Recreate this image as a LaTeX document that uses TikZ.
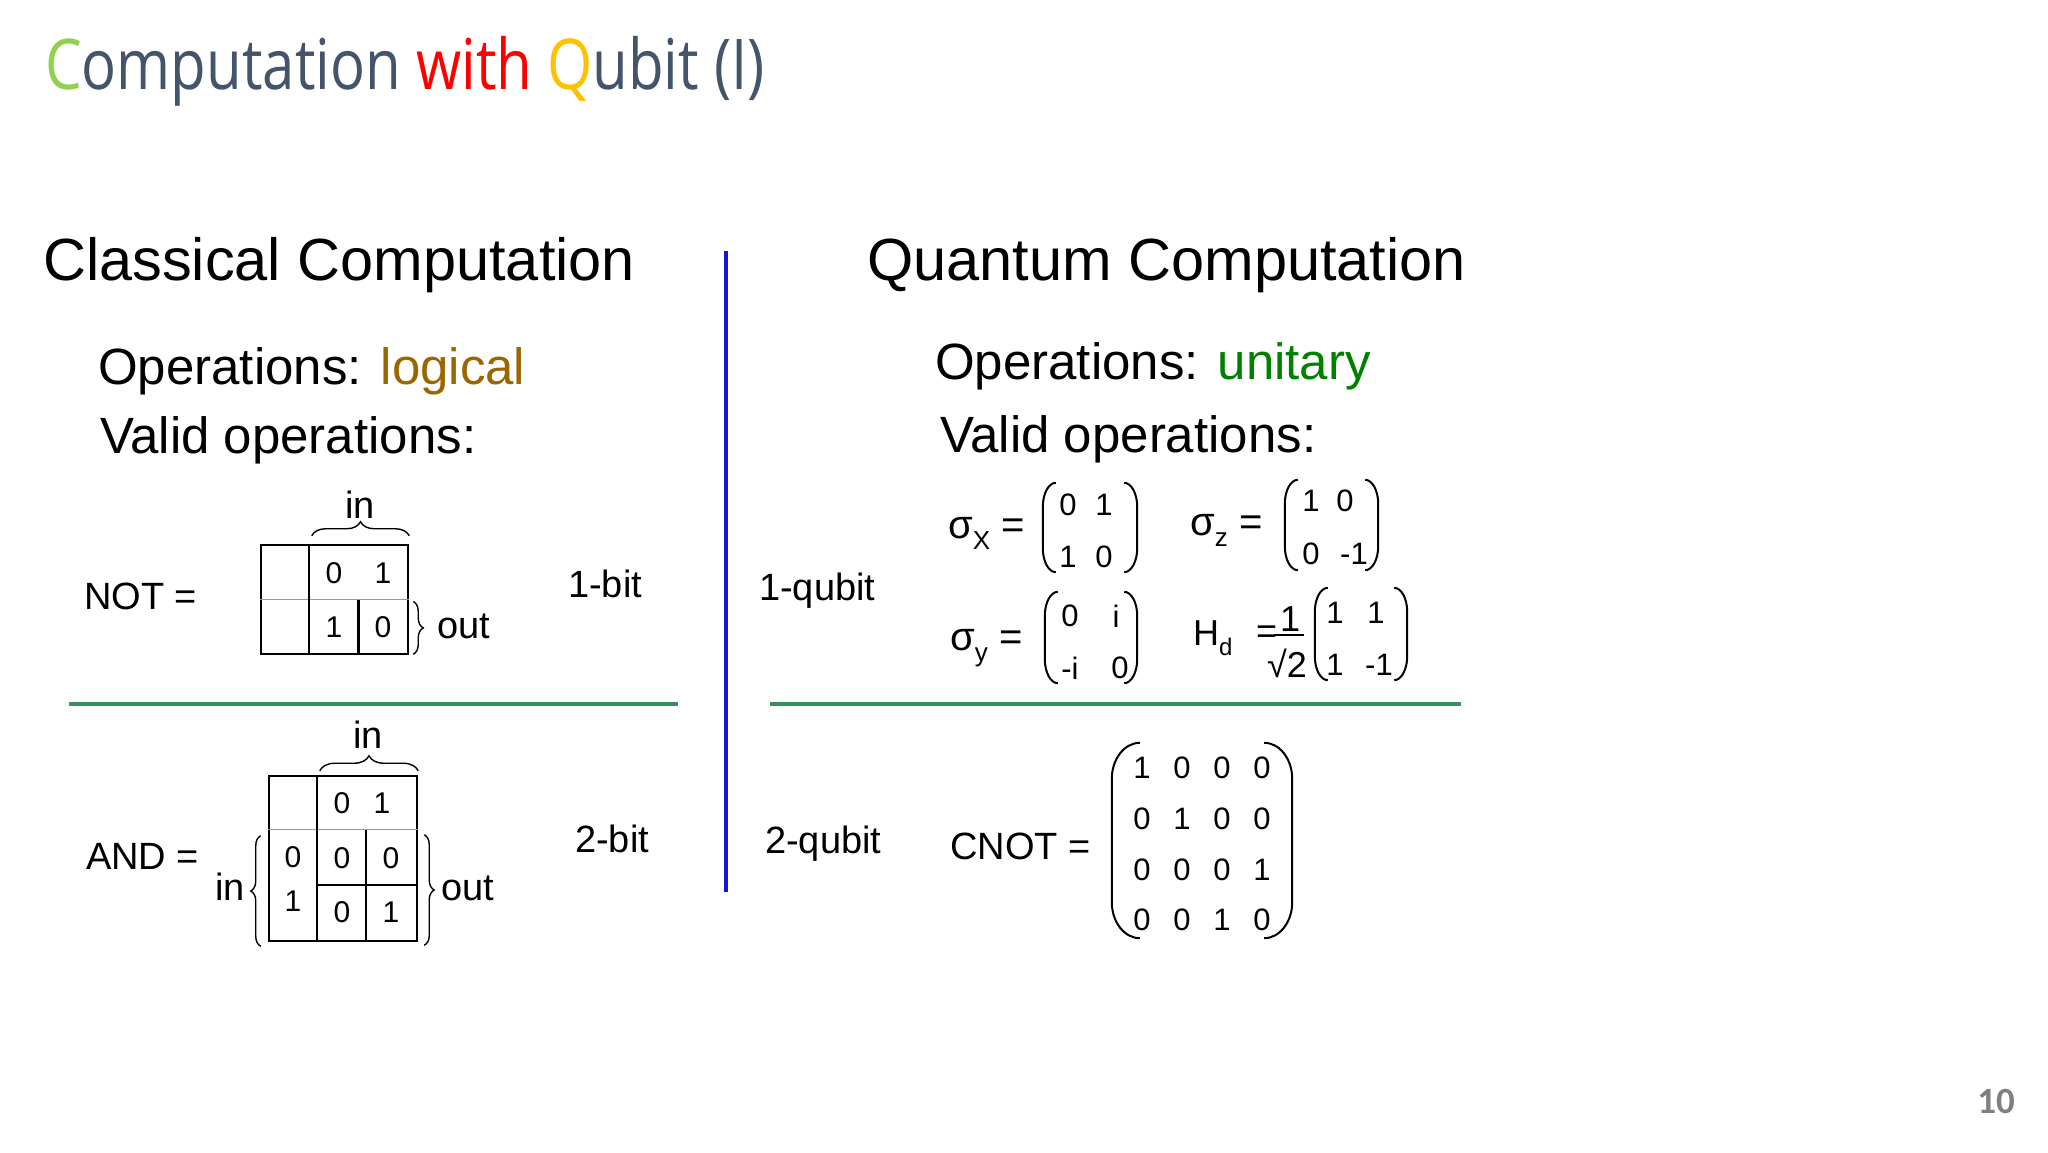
\documentclass[tikz,border=0pt]{standalone}
\usepackage{fontspec}
\usepackage{tikz}
\usepackage{xcolor}
\setmainfont{Liberation Sans}
\newfontfamily\titlefont{Open Sans}[FakeStretch=0.83]
\newfontfamily\numfont{Carlito}
\usetikzlibrary{decorations.pathreplacing, calc}
\definecolor{cTitle}{RGB}{68,84,106}
\definecolor{cLime}{RGB}{146,208,80}
\definecolor{cRed}{RGB}{255,0,0}
\definecolor{cGold}{RGB}{255,192,0}
\definecolor{cLogic}{RGB}{153,102,0}
\definecolor{cUnitary}{RGB}{0,128,0}
\definecolor{cDivider}{RGB}{20,20,215}
\definecolor{cRule}{RGB}{50,145,95}
\definecolor{cPage}{RGB}{128,128,128}
\newcommand{\fsz}[1]{\fontsize{#1}{#1}\selectfont}
\newcommand{\subtxt}[2][26]{\raisebox{-0.28em}{\fsz{#1}#2}}
% round brackets along the sides of a matrix node
\newcommand{\matparens}[3]{%
	\draw[paren] ($(#1.north west)+(#2,0)$) .. controls ($(#1.north west)+(0.45*#2,0)$) and ($(#1.north west)+(0,0.45*#3)$) .. ($(#1.north west)+(0,#3)$)
		-- ($(#1.south west)+(0,-#3)$) .. controls ($(#1.south west)+(0,-0.45*#3)$) and ($(#1.south west)+(0.45*#2,0)$) .. ($(#1.south west)+(#2,0)$);
	\draw[paren] ($(#1.north east)+(-#2,0)$) .. controls ($(#1.north east)+(-0.45*#2,0)$) and ($(#1.north east)+(0,0.45*#3)$) .. ($(#1.north east)+(0,#3)$)
		-- ($(#1.south east)+(0,-#3)$) .. controls ($(#1.south east)+(0,-0.45*#3)$) and ($(#1.south east)+(-0.45*#2,0)$) .. ($(#1.south east)+(-#2,0)$);
}
\tikzset{
	heading/.style={anchor=base west, inner sep=0pt, font=\fsz{59.5}},
	subhead/.style={anchor=base west, inner sep=0pt, font=\fsz{51}},
	lbl/.style={anchor=base west, inner sep=0pt, font=\fsz{38}},
	siglbl/.style={anchor=base west, inner sep=0pt, font=\fsz{40}},
	hdlbl/.style={anchor=base west, inner sep=0pt, font=\fsz{36}},
	digit/.style={inner sep=0pt, font=\fsz{30}},
	entry/.style={inner sep=0pt, font=\fsz{31}},
	% truth-table helpers
	truthtab/.style={draw, line width=2.5pt, inner sep=0pt},
	thinrule/.style={draw=black!40, line width=1.2pt},
	thickrule/.style={draw=black, line width=2.5pt},
	bracebox/.style={decorate, decoration={brace, amplitude=#1}, line width=1.4pt},
	bracebox/.default=12,
	matbox/.style={inner sep=0pt},
	paren/.style={line width=2pt},
	sectionrule/.style={cRule, line width=4pt},
}
\begin{document}
\begin{tikzpicture}[x=1pt, y=-1pt]
	\fill[white] (0,0) rectangle (2048,1152);
	\useasboundingbox (0,0) rectangle (2048,1152);

	\node[anchor=base west, inner sep=0pt, font=\titlefont\fsz{70}, text=cTitle] (title) at (45,89)
		{\textcolor{cLime}{C}omputation \textcolor{cRed}{with} \textcolor{cGold}{Q}ubit (I)};
	\node[heading] (classic) at (43,280) {Classical Computation};
	\node[heading] (quantum) at (867,280) {Quantum Computation};
	\node[subhead] (opsl) at (98,384) {Operations: \textcolor{cLogic}{logical}};
	\node[subhead] (validl) at (100,453) {Valid operations:};
	\node[subhead] (opsr) at (935,379) {Operations: \textcolor{cUnitary}{unitary}};
	\node[subhead] (validr) at (940,452) {Valid operations:};

	\draw[cDivider, line width=4pt] (726,251) -- (726,892);
	\draw[sectionrule] (69,704) -- (678,704);
	\draw[sectionrule] (770,704) -- (1461,704);

	% NOT table
	\node[lbl] (notlbl) at (84,609) {NOT =};
	\node[truthtab, minimum width=147pt, minimum height=109pt] (nottab) at (334.5,599.5) {};
	\draw[thinrule] (nottab.west) -- (nottab.east);
	\draw[thickrule] ($(nottab.north west)+(49,0)$) -- ($(nottab.south west)+(49,0)$);
	\draw[thickrule] ($(nottab.center)+(24,0)$) -- ($(nottab.south)+(24,0)$);
	\foreach \x/\y/\v [count=\k] in {334/573/0, 383/573/1, 334/627/1, 383/627/0}
		\node[digit] (nd\k) at (\x,\y) {\v};
	\draw[bracebox=14] ($(nottab.north west)+(52,-8)$) -- ($(nottab.north east)+(0,-8)$);
	\node[lbl, anchor=base] (notin) at (360,518) {in};
	\draw[bracebox=10] ($(nottab.east)+(4,2)$) -- ($(nottab.south east)+(4,-1)$);
	\node[lbl] (notout) at (437,638) {out};
	\node[lbl] (onebit) at (568,597) {1-bit};

	% AND table
	\node[lbl] (andlbl) at (86,869) {AND =};
	\node[truthtab, minimum width=148pt, minimum height=165pt] (andtab) at (343,858.5) {};
	\draw[thinrule] ($(andtab.north west)+(0,55)$) -- ($(andtab.north east)+(0,55)$);
	\draw[thickrule] ($(andtab.north west)+(49,0)$) -- ($(andtab.south west)+(49,0)$);
	\draw[thickrule] ($(andtab.north west)+(98,55)$) -- ($(andtab.south west)+(98,0)$);
	\draw[thickrule] ($(andtab.north west)+(49,110)$) -- ($(andtab.north east)+(0,110)$);
	\foreach \x/\y/\v [count=\k] in {342/803/0, 382/803/1, 293/857/0, 293/901/1, 342/858/0, 391/858/0, 342/912/0, 391/912/1}
		\node[digit] (ad\k) at (\x,\y) {\v};
	\draw[bracebox=15] ($(andtab.north west)+(52,-4)$) -- ($(andtab.north east)+(0,-4)$);
	\node[lbl, anchor=base] (andin) at (368,748) {in};
	\draw[bracebox=10] ($(andtab.south west)+(-7,4)$) -- ($(andtab.north west)+(-7,61)$);
	\node[lbl] (andinl) at (215,900) {in};
	\draw[bracebox=10] ($(andtab.north east)+(6,60)$) -- ($(andtab.south east)+(6,3)$);
	\node[lbl] (andout) at (441,900) {out};
	\node[lbl] (twobit) at (575,852) {2-bit};

	% one-qubit gates
	\node[lbl] (onequbit) at (759,600) {1-qubit};
	\node[siglbl] (lsx) at (948,538) {σ\subtxt{X} =};
	\node[matbox, minimum width=94pt, minimum height=89pt] (sx) at (1090,527.5) {};
	\matparens{sx}{13}{24}
	\foreach \x/\y/\v [count=\k] in {1068/505/0, 1104/505/1, 1068/557/1, 1104/557/0}
		\node[entry] (sx\k) at (\x,\y) {\v};
	\node[siglbl] (lsz) at (1190,535) {σ\subtxt{z} =};
	\node[matbox, minimum width=93pt, minimum height=90pt] (sz) at (1331.5,525) {};
	\matparens{sz}{13}{24}
	\foreach \x/\y/\v [count=\k] in {1311/501/1, 1345/501/0, 1311/554/0, 1354/554/-1}
		\node[entry] (sz\k) at (\x,\y) {\v};
	\node[siglbl] (lsy) at (950,650) {σ\subtxt{y} =};
	\node[matbox, minimum width=92pt, minimum height=91pt] (sy) at (1091,637.5) {};
	\matparens{sy}{13}{24}
	\foreach \x/\y/\v [count=\k] in {1070/616/0, 1116/616/i, 1070/668/-i, 1120/668/0}
		\node[entry] (sy\k) at (\x,\y) {\v};
	\node[hdlbl] (lhd) at (1193,645) {H\subtxt[24]{d}};
	\node[hdlbl] (hdeq) at (1256,643) {=};
	\node[hdlbl, anchor=base] (hdnum) at (1290,631) {1};
	\draw[line width=2.2pt] ($(hdeq.base east)+(-3,-8)$) -- ($(hdeq.base east)+(27,-8)$);
	\node[hdlbl] (hdden) at (1267,677) {√2};
	\node[matbox, minimum width=92pt, minimum height=92pt] (hd) at (1361,634) {};
	\matparens{hd}{13}{24}
	\foreach \x/\y/\v [count=\k] in {1335/613/1, 1376/613/1, 1335/665/1, 1379/665/-1}
		\node[entry] (hd\k) at (\x,\y) {\v};

	% two-qubit gate
	\node[lbl] (twoqubit) at (765,853) {2-qubit};
	\node[lbl] (cnotlbl) at (950,859) {CNOT =};
	\node[matbox, minimum width=180pt, minimum height=195pt] (cnot) at (1202,840.5) {};
	\matparens{cnot}{28}{36}
	\foreach \v [count=\k from 0] in {1,0,0,0, 0,1,0,0, 0,0,0,1, 0,0,1,0}{
		\pgfmathtruncatemacro{\c}{mod(\k,4)}
		\pgfmathtruncatemacro{\r}{\k/4}
		\node[entry] (cn\k) at (1142+40*\c, 768+50.7*\r) {\v};
	}

	\node[anchor=base east, inner sep=0pt, font=\numfont\bfseries\fsz{37}, text=cPage] (pnum) at (2015,1113) {10};
\end{tikzpicture}
\end{document}
